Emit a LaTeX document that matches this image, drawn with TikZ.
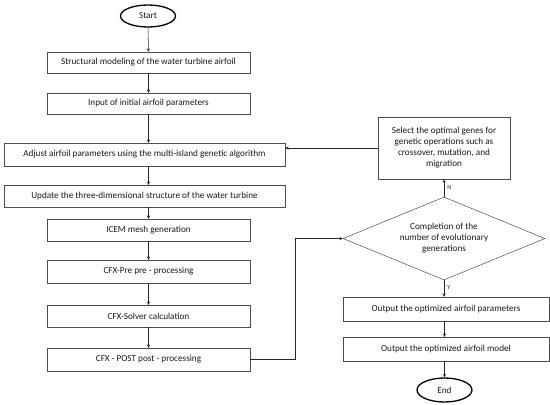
\documentclass[tikz,border=0pt]{standalone}
\usepackage{fontspec}
\setmainfont{Carlito}
\usetikzlibrary{shapes.geometric}

\begin{document}
\begin{tikzpicture}[x=1pt,y=-1pt,>=stealth,
  box/.style={draw=black!70,line width=0.5pt,inner sep=1pt,text=black!90,font=\fontsize{9.2}{11}\selectfont},
  term/.style={draw=black,line width=1.3pt,ellipse,inner sep=0pt,text=black!90,font=\fontsize{9.2}{11}\selectfont},
  decision/.style={draw=black!70,line width=0.5pt,diamond,aspect=2.4,inner sep=1pt,align=center,text=black!90,font=\fontsize{9.2}{11}\selectfont},
  flow/.style={->,black!85,line width=0.5pt},
  tag/.style={font=\fontsize{6}{7}\selectfont,text=black!90,inner sep=1pt}]

\useasboundingbox (0,0) rectangle (550,405);

% The left column
\node[term,minimum width=55pt,minimum height=22pt] (start) at (148,16) {Start};
\node[box,minimum width=203pt,minimum height=21pt] (structure) at (148.5,62.5) {Structural modeling of the water turbine airfoil};
\node[box,minimum width=203pt,minimum height=21pt] (input) at (148.5,103.5) {Input of initial airfoil parameters};
\node[box,minimum width=281pt,minimum height=23pt] (adjust) at (144.5,154.5) {Adjust airfoil parameters using the multi-island genetic algorithm};
\node[box,minimum width=281pt,minimum height=22pt] (update) at (144.5,196) {Update the three-dimensional structure of the water turbine};
\node[box,minimum width=203pt,minimum height=22pt] (icem) at (148.5,230) {ICEM mesh generation};
\node[box,minimum width=203pt,minimum height=23pt] (pre) at (148.5,271.5) {CFX-Pre pre - processing};
\node[box,minimum width=203pt,minimum height=22pt] (solver) at (148.5,316) {CFX-Solver calculation};
\node[box,minimum width=203pt,minimum height=23pt] (post) at (148.5,359.5) {CFX - POST post - processing};

% The right column
\node[box,minimum width=132pt,minimum height=62pt,align=center] (select) at (444,148) {Select the optimal genes for\\genetic operations such as\\crossover, mutation, and\\migration};
\node[decision,minimum width=202pt,minimum height=83pt] (check) at (444,238.5) {Completion of the\\number of evolutionary\\generations};
\node[box,minimum width=206pt,minimum height=24pt] (params) at (446,309) {Output the optimized airfoil parameters};
\node[box,minimum width=206pt,minimum height=24pt] (model) at (446,349) {Output the optimized airfoil model};
\node[term,minimum width=55pt,minimum height=24pt] (end) at (444.5,390) {End};

% The main flow
\draw[flow] (start) -- (structure);
\draw[flow] (structure) -- (input);
\draw[flow] (input) -- (input |- adjust.north);
\draw[flow] (adjust.south -| input) -- (update.north -| input);
\draw[flow] (update.south -| icem) -- (icem);
\draw[flow] (icem) -- (pre);
\draw[flow] (pre) -- (solver);
\draw[flow] (solver) -- (post);

% The loop
\coordinate (turn) at (295,359.5);
\draw[flow] (post.east) -- (turn) |- (check.west);
\draw[flow] (check.north) -- (select.south) node[tag,pos=0.5,right=2pt] {N};
\draw[flow] (select.west) -- (select.west -| adjust.east);
\draw[flow] (check.south) -- (check.south |- params.north) node[tag,pos=0.45,right=2pt] {Y};
\draw[flow] (params.south -| end) -- (model.north -| end);
\draw[flow] (model.south -| end) -- (end);

\end{tikzpicture}
\end{document}
